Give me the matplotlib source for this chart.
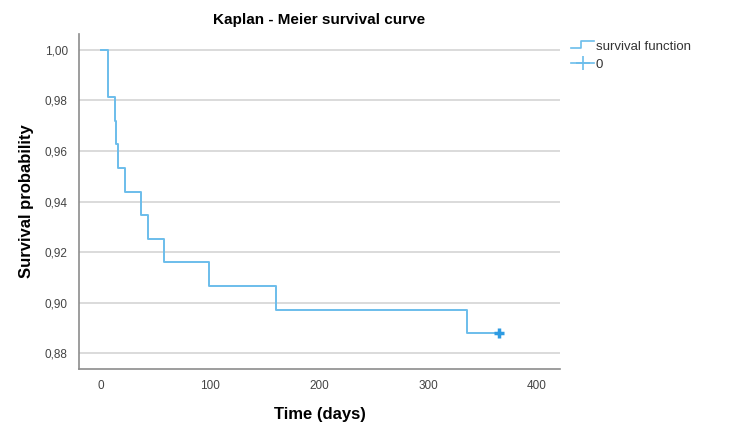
import matplotlib
matplotlib.use("Agg")
import matplotlib.pyplot as plt
from matplotlib.lines import Line2D
from matplotlib.legend_handler import HandlerBase
from matplotlib.ticker import FuncFormatter

plt.rcParams['font.family'] = ['Liberation Sans', 'DejaVu Sans']

# step times (days) and survival level after each step
times = [0, 7, 13, 14, 16, 22, 37, 43, 58, 99, 161, 336, 365]
survival = [1.000, 0.9813, 0.9720, 0.9626, 0.9533, 0.9439, 0.9346,
            0.9252, 0.9159, 0.9065, 0.8972, 0.8879, 0.8879]
censor_time = [365]
censor_surv = [0.8879]

yticks = [0.88, 0.90, 0.92, 0.94, 0.96, 0.98, 1.00]
xticks = [0, 100, 200, 300, 400]

line_col = '#6BBDEB'
mark_col = '#2E9BE2'


class StepHandler(HandlerBase):
    def create_artists(self, legend, orig, xd, yd, w, h, fs, trans):
        xs = [xd, xd + w * 0.45, xd + w * 0.45, xd + w]
        ys = [yd + h * 0.2, yd + h * 0.2, yd + h * 0.9, yd + h * 0.9]
        ln = Line2D(xs, ys, color=line_col, lw=1.2, transform=trans)
        return [ln]


fig = plt.figure(figsize=(7.5, 4.37), dpi=100)
ax = fig.add_axes([0.1053, 0.1556, 0.6413, 0.7666])

ax.set_axisbelow(True)
ax.grid(axis='y', color='#d4d4d4', lw=1.2)
ax.step(times, survival, where='post', color=line_col, lw=1.4)
ax.plot(censor_time, censor_surv, '+', color=mark_col, ms=7, mew=2.5)

ax.set_xlim(-20, 421)
ax.set_ylim(0.8737, 1.0063)
ax.set_xticks(xticks)
ax.set_yticks(yticks)
ax.yaxis.set_major_formatter(FuncFormatter(lambda v, p: f"{v:.2f}".replace('.', ',')))
ax.tick_params(length=0, labelsize=8.5, colors='#444444', pad=8)

for s in ['top', 'right']:
    ax.spines[s].set_visible(False)
for s in ['left', 'bottom']:
    ax.spines[s].set_color('#8c8c8c')
    ax.spines[s].set_linewidth(1.2)

ax.set_title("Kaplan - Meier survival curve", fontsize=11, fontweight='bold', pad=7)
ax.set_xlabel("Time (days)", fontsize=12, fontweight='bold', labelpad=11)
ax.set_ylabel("Survival probability", fontsize=12, fontweight='bold', labelpad=8)

h1 = Line2D([], [], color=line_col)
h2 = Line2D([], [], color=line_col, marker='+', ms=10, mew=1.2, lw=1.2)
fig.legend([h1, h2], ["survival function", "0"],
           handler_map={h1: StepHandler()},
           loc='upper left', bbox_to_anchor=(0.745, 0.935),
           frameon=False, fontsize=9.5, handlelength=1.8, handletextpad=0.1,
           labelspacing=0.45, labelcolor='#333333')

fig.savefig("out.png", dpi=100)
